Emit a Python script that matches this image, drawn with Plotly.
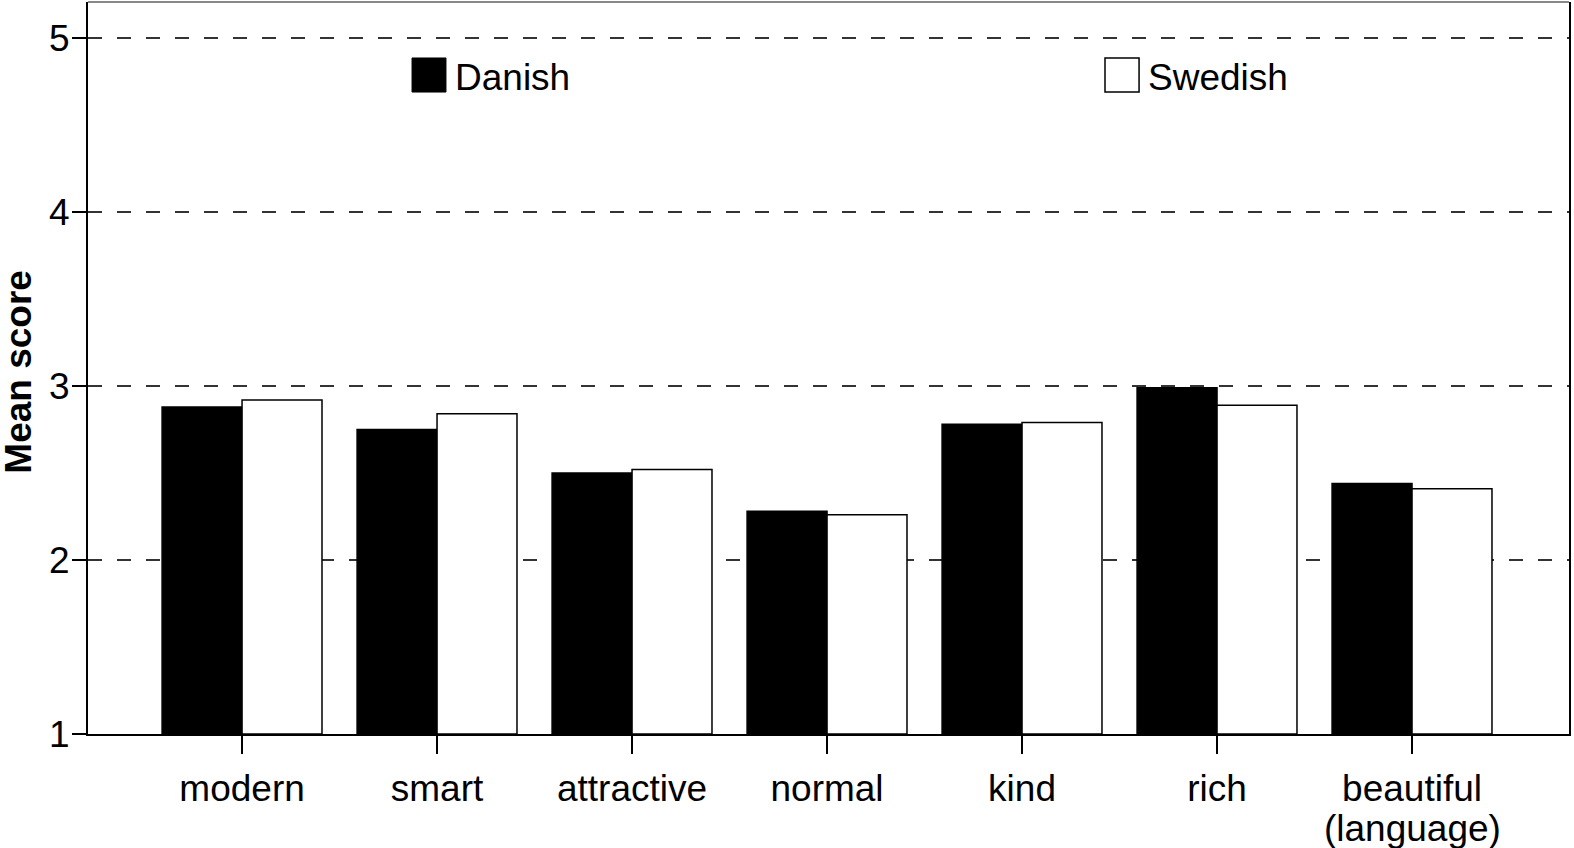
import plotly.graph_objects as go

categories = ["modern", "smart", "attractive", "normal", "kind", "rich", "beautiful<br>(language)"]
danish = [2.88, 2.75, 2.50, 2.28, 2.78, 2.99, 2.44]
swedish = [2.92, 2.84, 2.52, 2.26, 2.79, 2.89, 2.41]
y_ticks = [1, 2, 3, 4, 5]

FONT = "Liberation Sans, Arial, sans-serif"
x_idx = list(range(len(categories)))
first_lines = [c.split("<br>")[0] for c in categories]
second_lines = [(i, c.split("<br>")[1]) for i, c in enumerate(categories) if "<br>" in c]

fig = go.Figure()
fig.add_trace(go.Bar(
    x=x_idx, y=[v - 1 for v in danish], base=1, name="Danish",
    marker=dict(color="black", line=dict(color="black", width=1.5)),
    showlegend=False,
))
fig.add_trace(go.Bar(
    x=x_idx, y=[v - 1 for v in swedish], base=1, name="Swedish",
    marker=dict(color="white", line=dict(color="black", width=1.5)),
    showlegend=False,
))

annotations = [
    dict(text="Danish", xref="paper", yref="paper", x=0.2465, y=0.897, xanchor="left", yanchor="middle",
         showarrow=False, font=dict(size=37)),
    dict(text="Swedish", xref="paper", yref="paper", x=0.7145, y=0.897, xanchor="left", yanchor="middle",
         showarrow=False, font=dict(size=37)),
    dict(text="<b>Mean score</b>", xref="paper", yref="paper", x=-0.0466, y=0.495, textangle=-90,
         xanchor="center", yanchor="middle", showarrow=False, font=dict(size=37)),
]
for i, txt in second_lines:
    annotations.append(dict(text=txt, xref="x", yref="paper", x=i, y=-0.1290,
                            xanchor="center", yanchor="middle", showarrow=False, font=dict(size=37)))

fig.update_layout(
    width=1574, height=848,
    margin=dict(l=88, r=5, t=2, b=114),
    paper_bgcolor="white", plot_bgcolor="white",
    barmode="group", bargap=0.18, bargroupgap=0,
    font=dict(family=FONT, size=37, color="black"),
    shapes=[
        dict(type="line", xref="paper", yref="paper", x0=0, x1=1, y0=1, y1=1,
             line=dict(color="#888888", width=2)),
        dict(type="rect", xref="paper", yref="paper", x0=0.2188, x1=0.2417, y0=0.877, y1=0.9235,
             fillcolor="black", line=dict(color="black", width=1)),
        dict(type="rect", xref="paper", yref="paper", x0=0.6867, x1=0.7097, y0=0.877, y1=0.9235,
             fillcolor="white", line=dict(color="black", width=1.5)),
    ],
    annotations=annotations,
)

fig.update_xaxes(
    range=[-0.79, 6.805], automargin=False,
    tickmode="array", tickvals=x_idx, ticktext=first_lines,
    ticks="outside", ticklen=18, tickwidth=1.5, tickcolor="black",
    ticklabelstandoff=3,
    showline=True, linecolor="black", linewidth=2, mirror=False,
    showgrid=False, zeroline=False,
    tickfont=dict(size=37),
)
fig.update_yaxes(
    range=[1, 5.207], automargin=False,
    tickmode="array", tickvals=y_ticks, ticktext=[str(t) for t in y_ticks],
    ticks="outside", ticklen=14, tickwidth=1.5, tickcolor="black",
    ticklabelstandoff=-5,
    showline=True, linecolor="black", linewidth=2, mirror=True,
    showgrid=True, gridcolor="#333333", gridwidth=1.5, griddash="14px,15px",
    zeroline=False,
    tickfont=dict(size=37),
)

fig.write_html(
    "out.html",
    config={"displayModeBar": False},
    post_script="document.body.style.margin='0';document.body.style.overflow='hidden';"
                "document.documentElement.style.overflow='hidden';",
)
